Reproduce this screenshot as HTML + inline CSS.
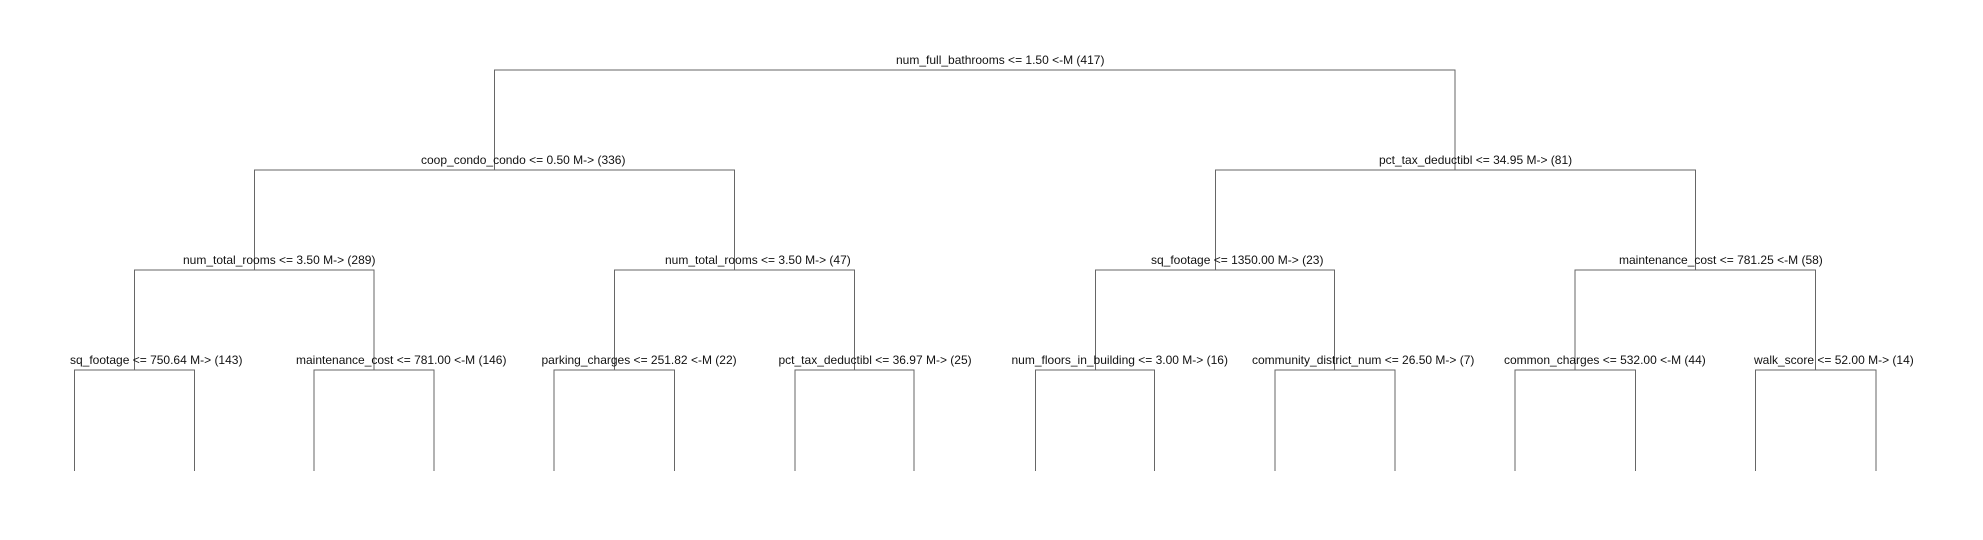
<!DOCTYPE html>
<html><head><meta charset="utf-8"><style>
html,body{margin:0;padding:0;background:#fff;}
svg{display:block;}
text{font-family:"Liberation Sans",sans-serif;font-size:12px;fill:#111;}
</style></head><body>
<svg width="1983" height="540" viewBox="0 0 1983 540" xmlns="http://www.w3.org/2000/svg">
<g stroke="#666" stroke-width="1.2" fill="none" shape-rendering="crispEdges">
<path d="M494.5 170 V70 H1455 V170"/>
<path d="M254.5 270 V170 H734.5 V270"/>
<path d="M1215.5 270 V170 H1695.5 V270"/>
<path d="M134.5 370 V270 H374 V370"/>
<path d="M614.5 370 V270 H854.5 V370"/>
<path d="M1095.5 370 V270 H1334.5 V370"/>
<path d="M1575 370 V270 H1815.5 V370"/>
<path d="M74.5 471 V370 H194.5 V471"/>
<path d="M314 471 V370 H434 V471"/>
<path d="M554 471 V370 H674.5 V471"/>
<path d="M795 471 V370 H914 V471"/>
<path d="M1035.5 471 V370 H1154.5 V471"/>
<path d="M1275 471 V370 H1395 V471"/>
<path d="M1515 471 V370 H1635.5 V471"/>
<path d="M1755.5 471 V370 H1876 V471"/>
</g>
<text x="896" y="64">num_full_bathrooms &lt;= 1.50 &lt;-M (417)</text>
<text x="421" y="164">coop_condo_condo &lt;= 0.50 M-&gt; (336)</text>
<text x="1379" y="164">pct_tax_deductibl &lt;= 34.95 M-&gt; (81)</text>
<text x="183" y="264">num_total_rooms &lt;= 3.50 M-&gt; (289)</text>
<text x="665" y="264">num_total_rooms &lt;= 3.50 M-&gt; (47)</text>
<text x="1151" y="264">sq_footage &lt;= 1350.00 M-&gt; (23)</text>
<text x="1619" y="264">maintenance_cost &lt;= 781.25 &lt;-M (58)</text>
<text x="70" y="364">sq_footage &lt;= 750.64 M-&gt; (143)</text>
<text x="296" y="364">maintenance_cost &lt;= 781.00 &lt;-M (146)</text>
<text x="541.5" y="364">parking_charges &lt;= 251.82 &lt;-M (22)</text>
<text x="778.5" y="364">pct_tax_deductibl &lt;= 36.97 M-&gt; (25)</text>
<text x="1011.5" y="364">num_floors_in_building &lt;= 3.00 M-&gt; (16)</text>
<text x="1252" y="364">community_district_num &lt;= 26.50 M-&gt; (7)</text>
<text x="1504" y="364">common_charges &lt;= 532.00 &lt;-M (44)</text>
<text x="1754" y="364">walk_score &lt;= 52.00 M-&gt; (14)</text>
</svg>
</body></html>
